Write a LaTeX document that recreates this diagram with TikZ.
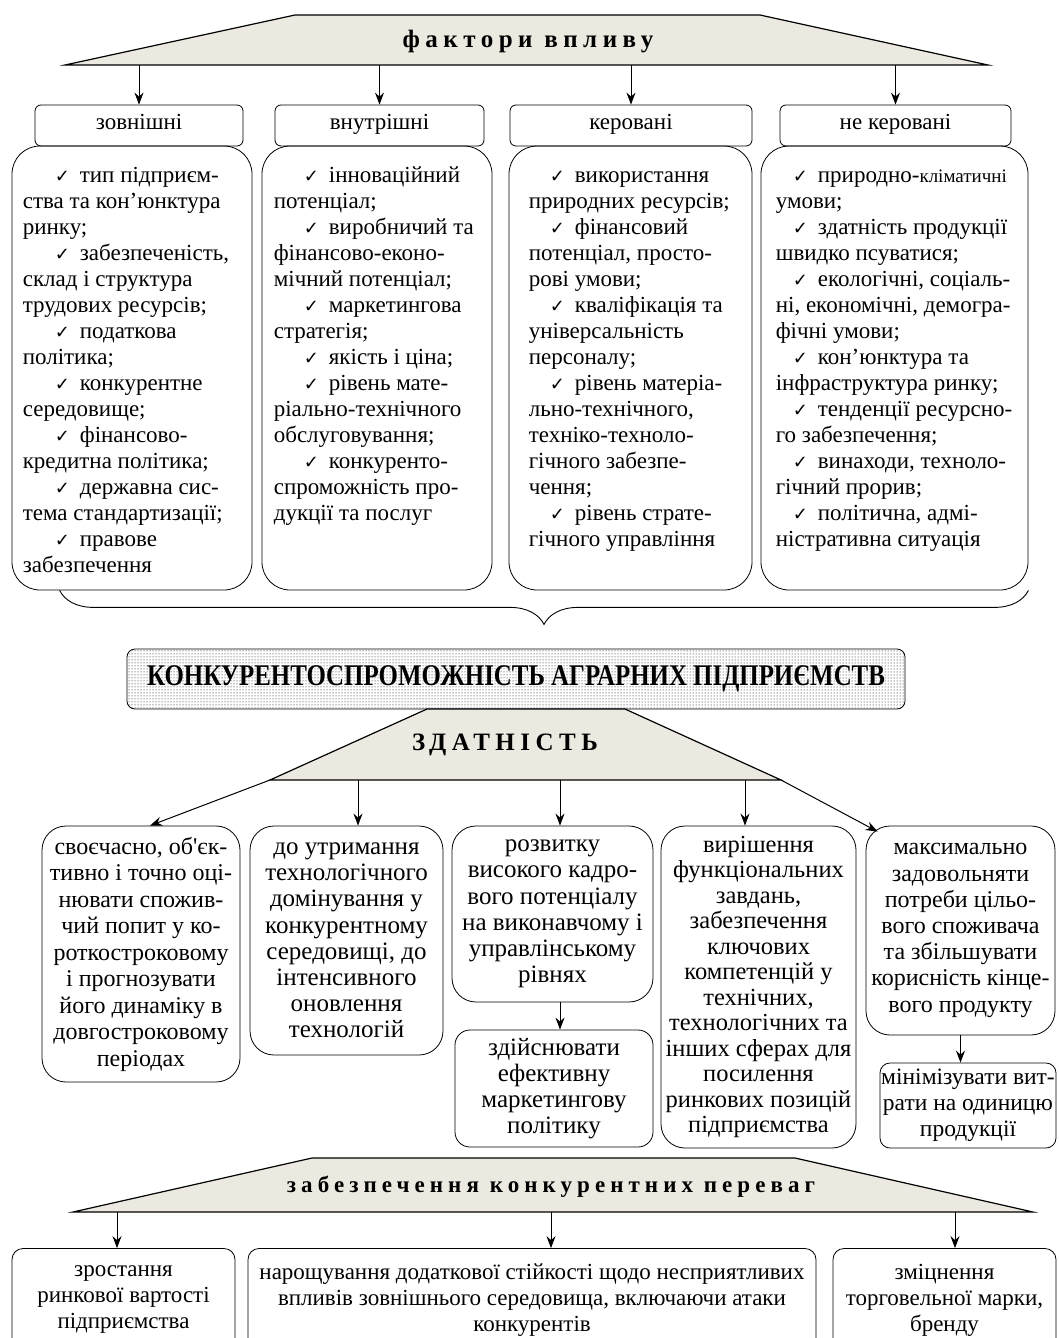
\documentclass[tikz,border=0pt]{standalone}
\usepackage{graphicx}
\usepackage{fontspec}
\setmainfont{Liberation Serif}
\newfontfamily\chkfont{DejaVu Sans}
\newfontfamily\spacedfont{Liberation Serif}[LetterSpace=22]
\usetikzlibrary{arrows.meta,patterns,decorations.pathreplacing,positioning}

\definecolor{trapfill}{RGB}{236,234,224}

\newcommand{\chk}[1]{\hspace*{#1}{\chkfont\fontsize{18}{18}\selectfont ✓}\hspace{10pt}}

\begin{document}
\begin{tikzpicture}[
    x=1pt, y=1pt,
    font=\fontsize{23}{26}\selectfont,
    trap/.style={fill=trapfill, draw, line width=1.2pt},
    heading/.style={font=\spacedfont\bfseries\fontsize{25}{30}\selectfont, inner sep=0pt},
    hdrbox/.style={draw, rounded corners=6pt, line width=0.8pt,
        minimum height=41pt, inner sep=0pt, text height=14pt, text depth=6pt},
    factbox/.style={draw, rounded corners=28pt, line width=0.8pt,
        minimum height=444pt, inner sep=0pt},
    facttext/.style={anchor=north west, inner sep=0pt, align=left},
    abbox/.style={draw, rounded corners=24pt, line width=0.8pt,
        align=center, inner sep=0pt, font=\fontsize{25}{26.2}\selectfont},
    gainbox/.style={draw, rounded corners=11pt, line width=0.8pt,
        align=center, inner sep=0pt, minimum height=103pt},
    arrow/.style={-{Stealth[length=12pt,width=9pt,inset=4pt]}, line width=1pt}
]
\useasboundingbox (0,0) rectangle (1058,-1338);

% фактори впливу
\filldraw[trap] (65,-65) -- (295,-15) -- (760,-15) -- (988,-65) -- cycle;
\node[heading] (factors) at (528,-42) {фактори впливу};
\coordinate (fbase) at (0,-65);

% four groups of factors
\node[hdrbox, minimum width=208pt] (exthdr) at (139,-125.5) {зовнішні};
\node[hdrbox, minimum width=209pt] (inthdr) at (379.5,-125.5) {внутрішні};
\node[hdrbox, minimum width=242pt] (ctlhdr) at (631,-125.5) {керовані};
\node[hdrbox, minimum width=231pt] (nonhdr) at (895.5,-125.5) {не керовані};

\foreach \h in {exthdr,inthdr,ctlhdr,nonhdr}
    \draw[arrow] (\h.north |- fbase) -- (\h.north);

\node[factbox, minimum width=240pt] (extbox) at (132,-368) {};
\node[factbox, minimum width=230pt] (intbox) at (377,-368) {};
\node[factbox, minimum width=243pt] (ctlbox) at (630.5,-368) {};
\node[factbox, minimum width=267pt] (nonbox) at (894.5,-368) {};

\node[facttext] (exttxt) at ([shift={(11,-18)}]extbox.north west) {%
\strut\chk{32pt}тип підприєм-\\
ства та кон’юнктура\\
ринку;\\
\chk{32pt}забезпеченість,\\
склад і структура\\
трудових ресурсів;\\
\chk{32pt}податкова\\
політика;\\
\chk{32pt}конкурентне\\
середовище;\\
\chk{32pt}фінансово-\\
кредитна політика;\\
\chk{32pt}державна сис-\\
тема стандартизації;\\
\chk{32pt}правове\\
забезпечення};

\node[facttext] (inttxt) at ([shift={(12,-18)}]intbox.north west) {%
\strut\chk{30pt}інноваційний\\
потенціал;\\
\chk{30pt}виробничий та\\
фінансово-еконо-\\
мічний потенціал;\\
\chk{30pt}маркетингова\\
стратегія;\\
\chk{30pt}якість і ціна;\\
\chk{30pt}рівень мате-\\
ріально-технічного\\
обслуговування;\\
\chk{30pt}конкуренто-\\
спроможність про-\\
дукції та послуг};

\node[facttext] (ctltxt) at ([shift={(20,-18)}]ctlbox.north west) {%
\strut\chk{21pt}використання\\
природних ресурсів;\\
\chk{21pt}фінансовий\\
потенціал, просто-\\
рові умови;\\
\chk{21pt}кваліфікація та\\
універсальність\\
персоналу;\\
\chk{21pt}рівень матеріа-\\
льно-технічного,\\
техніко-техноло-\\
гічного забезпе-\\
чення;\\
\chk{21pt}рівень страте-\\
гічного управління};

\node[facttext] (nontxt) at ([shift={(15,-18)}]nonbox.north west) {%
\strut\chk{17pt}природно-{\fontsize{19}{26}\selectfont кліматичні}\\
умови;\\
\chk{17pt}здатність продукції\\
швидко псуватися;\\
\chk{17pt}екологічні, соціаль-\\
ні, економічні, демогра-\\
фічні умови;\\
\chk{17pt}кон’юнктура та\\
інфраструктура ринку;\\
\chk{17pt}тенденції ресурсно-\\
го забезпечення;\\
\chk{17pt}винаходи, техноло-\\
гічний прорив;\\
\chk{17pt}політична, адмі-\\
ністративна ситуація};

% brace
\draw[decorate, decoration={brace, mirror, amplitude=34pt}, line width=0.9pt]
    ([xshift=48pt]extbox.south west) -- (nonbox.south east);

% banner
\node[draw, rounded corners=8pt, pattern=dots, pattern color=black,
    line width=0.8pt, minimum width=778pt, minimum height=60pt]
    (banner) at (516,-679)
    {\fontsize{30}{32}\selectfont\bfseries\scalebox{0.83}[1]{КОНКУРЕНТОСПРОМОЖНІСТЬ АГРАРНИХ ПІДПРИЄМСТВ}};

% здатність
\filldraw[trap] (270,-780) -- (427,-709) -- (625,-709) -- (781,-780) -- cycle;
\node[heading] (ability) at (505,-745) {ЗДАТНІСТЬ};
\coordinate (zbase) at (0,-780);
\coordinate (zleft) at (270,-780);
\coordinate (zright) at (781,-780);

\node[abbox, font=\fontsize{24}{26.5}\selectfont, minimum width=198pt, minimum height=256pt] (abA) at (141,-954)
    {своєчасно, об\textquotesingle єк-\\тивно і точно оці-\\нювати спожив-\\чий попит у ко-\\роткостроковому\\і прогнозувати\\його динаміку в\\довгостроковому\\періодах};
\node[abbox, minimum width=193pt, minimum height=229pt] (abB) at (346.5,-940.5)
    {до утримання\\технологічного\\домінування у\\конкурентному\\середовищі, до\\інтенсивного\\оновлення\\технологій};
\node[abbox, minimum width=201pt, minimum height=176pt] (abC) at (552.5,-914)
    {розвитку\\високого кадро-\\вого потенціалу\\на виконавчому і\\управлінському\\рівнях};
\node[abbox, rounded corners=15pt, minimum width=198pt, minimum height=117pt] (abCm) at (554,-1088.5)
    {здійснювати\\ефективну\\маркетингову\\політику};
\node[abbox, font=\fontsize{24.5}{25.5}\selectfont, minimum width=195pt, minimum height=322pt] (abD) at (758.5,-987)
    {вирішення\\функціональних\\завдань,\\забезпечення\\ключових\\компетенцій у\\технічних,\\технологічних та\\інших сферах для\\посилення\\ринкових позицій\\підприємства};
\node[abbox, font=\fontsize{24}{26.2}\selectfont, minimum width=189pt, minimum height=209pt] (abE) at (960.5,-930.5)
    {максимально\\задовольняти\\потреби цільо-\\вого споживача\\та збільшувати\\корисність кінце-\\вого продукту};
\node[abbox, font=\fontsize{23.5}{26}\selectfont, rounded corners=10pt, minimum width=176pt, minimum height=85pt] (abEm) at (968,-1105.5)
    {мінімізувати вит-\\рати на одиницю\\продукції};

\coordinate (arB) at ([xshift=11.5pt]abB.north);
\coordinate (arC) at ([xshift=7.5pt]abC.north);
\coordinate (arD) at ([xshift=-13.5pt]abD.north);
\draw[arrow] (zleft) -- ([xshift=9pt]abA.north);
\foreach \a in {arB,arC,arD}
    \draw[arrow] (\a |- zbase) -- (\a);
\draw[arrow] (zright) -- ([shift={(12,-6)}]abE.north west);
\draw[arrow] (abC.south -| arC) -- (abCm.north -| arC);
\draw[arrow] (abE.south) -- (abE.south |- abEm.north);

% забезпечення конкурентних переваг
\filldraw[trap] (73,-1212) -- (312,-1158) -- (795,-1158) -- (1033,-1212) -- cycle;
\node[heading, font=\spacedfont\bfseries\fontsize{23}{26}\selectfont] (gains) at (551,-1187)
    {забезпечення конкурентних переваг};
\coordinate (gbase) at (0,-1212);

\node[gainbox, minimum width=223pt] (gainA) at (123.5,-1300)
    {зростання\\ринкової вартості\\підприємства};
\node[gainbox, minimum width=568pt] (gainB) at (532,-1300)
    {нарощування додаткової стійкості щодо несприятливих\\впливів зовнішнього середовища, включаючи атаки\\конкурентів};
\node[gainbox, minimum width=223pt] (gainC) at (944.5,-1300)
    {зміцнення\\торговельної марки,\\бренду};

\coordinate (grA) at ([xshift=-6.5pt]gainA.north);
\coordinate (grB) at ([xshift=19pt]gainB.north);
\coordinate (grC) at ([xshift=10.5pt]gainC.north);
\foreach \g in {grA,grB,grC}
    \draw[arrow] (\g |- gbase) -- (\g);

\end{tikzpicture}
\end{document}
